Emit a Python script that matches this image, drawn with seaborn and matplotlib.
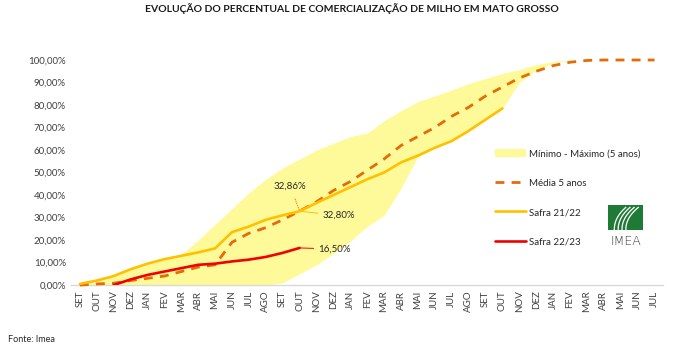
import numpy as np
import pandas as pd
import matplotlib
matplotlib.use("Agg")
import matplotlib.pyplot as plt
import seaborn as sns
from matplotlib.patches import Patch
from matplotlib.lines import Line2D

# months on the axis (two commercial years, SET -> JUL)
months = ["SET", "OUT", "NOV", "DEZ", "JAN", "FEV", "MAR", "ABR", "MAI", "JUN", "JUL", "AGO",
          "SET", "OUT", "NOV", "DEZ", "JAN", "FEV", "MAR", "ABR", "MAI", "JUN", "JUL", "AGO",
          "SET", "OUT", "NOV", "DEZ", "JAN", "FEV", "MAR", "ABR", "MAI", "JUN", "JUL"]

# values in %
band_max = [1, 2.5, 4.5, 7, 9.5, 11.5, 13.5, 20, 27, 34, 41, 47,
            52, 56, 60, 63, 66, 67.5, 73, 77.5, 81.5, 84, 86.7, 89.5,
            91.8, 94, 95.8, 98, 99.3, 100, 100, 100, 100, 100, 100]
band_min = [0, 0, 0, 0, 0, 0, 0, 0, 0, 0, 0, 0,
            1, 5, 9, 14, 19.5, 26, 31, 43, 57, 61, 64, 68.5,
            73.5, 78.5, 90, 95.5, 98.5, 99.8, 100, 100, 100, 100, 100]
media = [0, 0.5, 0.8, 2, 3, 4, 6, 8, 9, 19, 23, 25.5,
         29, 32.86, 37, 42, 46, 51, 56, 62, 66, 70, 75, 79,
         84, 88, 92, 95, 97.5, 99, 99.8, 100, 100, 100, 100]
safra_21_22 = [0.5, 2, 4, 7, 9.5, 11.5, 13, 14.5, 16.3, 23.5, 26, 29,
               31, 32.8, 36.5, 40, 43.5, 47, 50, 54.5, 57.5, 61, 64, 68.5,
               73.5, 78.5]
safra_22_23 = [0, 2.5, 4.5, 6, 7.5, 9, 9.5, 10.5, 11.3, 12.5, 14.3, 16.5]  # starts in NOV

C_BAND = "#FFFA99"
C_MEDIA = "#E36C09"
C_21 = "#FFC000"
C_22 = "#F00000"

sns.set_style("white")
plt.rcParams["font.family"] = ["Lato", "DejaVu Sans"]

fig = plt.figure(figsize=(6.8, 3.55), dpi=100)
ax = fig.add_axes([0.105, 0.197, 0.870, 0.634])

x_all = np.arange(len(months))
ax.fill_between(x_all, band_min, band_max, color=C_BAND, linewidth=0, zorder=1)

sns.lineplot(x=x_all, y=media, ax=ax, color=C_MEDIA, linewidth=2.0,
             linestyle=(0, (3.2, 2.6)), zorder=3, clip_on=False)
sns.lineplot(x=np.arange(len(safra_21_22)), y=safra_21_22, ax=ax, color=C_21,
             linewidth=1.9, zorder=4)
sns.lineplot(x=np.arange(2, 2 + len(safra_22_23)), y=safra_22_23, ax=ax, color=C_22,
             linewidth=1.9, zorder=5)

ax.set_xlim(-0.5, len(months) - 0.5)
ax.set_ylim(0, 100)
ax.set_xticks(x_all)
ax.set_xticklabels(months, rotation=90, fontsize=7, color="#404040")
yt = np.arange(0, 101, 10)
ax.set_yticks(yt)
ax.set_yticklabels([f"{v:.2f}".replace(".", ",") + "%" for v in yt], fontsize=7, color="#404040")
ax.tick_params(length=0, pad=4)
for s in ["left", "right", "top"]:
    ax.spines[s].set_visible(False)
ax.spines["bottom"].set_color("#D9D9D9")
ax.spines["bottom"].set_linewidth(1)

# data labels with leader lines
ax.annotate("32,86%", xy=(13, media[13]), xytext=(12.45, 44), fontsize=7, color="#262626",
            ha="center", va="center",
            arrowprops=dict(arrowstyle="-", color=C_MEDIA, lw=0.6, linestyle=":",
                            shrinkA=4, shrinkB=0))
ax.annotate("32,80%", xy=(13, safra_21_22[13]), xytext=(14.35, 31), fontsize=7, color="#262626",
            ha="left", va="center",
            arrowprops=dict(arrowstyle="-", color=C_21, lw=0.7, shrinkA=1, shrinkB=0))
ax.annotate("16,50%", xy=(13, safra_22_23[-1]), xytext=(14.1, 16), fontsize=7, color="#262626",
            ha="left", va="center",
            arrowprops=dict(arrowstyle="-", color=C_22, lw=0.7, shrinkA=1, shrinkB=0))

handles = [Patch(facecolor=C_BAND, edgecolor="none"),
           Line2D([], [], color=C_MEDIA, lw=2.0, linestyle=(0, (3.2, 2.6))),
           Line2D([], [], color=C_21, lw=1.9),
           Line2D([], [], color=C_22, lw=1.9)]
labels = ["Mínimo - Máximo (5 anos)", "Média 5 anos", "Safra 21/22", "Safra 22/23"]
fig.legend(handles, labels, loc="upper left", bbox_to_anchor=(0.715, 0.605), frameon=False,
           fontsize=7, handlelength=3.2, handleheight=0.9, handletextpad=0.3,
           labelspacing=2.05, labelcolor="#262626")

# IMEA logo (simple drawing: green square with white road-like curves)
lg = fig.add_axes([608 / 680, 1 - 230 / 355, 35 / 680, 25 / 355])
lg.set_facecolor("#1F7A35")
lg.set_xlim(0, 1)
lg.set_ylim(0, 1)
yy = np.linspace(0, 0.92, 50)
for k in range(4):
    xb = 0.18 + 0.11 * k
    xt = 0.52 + 0.12 * k
    lg.plot(xb + (xt - xb) * (yy / 0.92) ** 2.2, yy, color="white", lw=0.9,
            solid_capstyle="butt")
lg.set_xticks([])
lg.set_yticks([])
for s in lg.spines.values():
    s.set_visible(False)
fig.text(626 / 680, 1 - 241 / 355, "IMEA", fontsize=9, color="#333333", ha="center", va="center",
         family=["DejaVu Sans"], fontweight="light")

fig.text(0.518, 0.975, "EVOLUÇÃO DO PERCENTUAL DE COMERCIALIZAÇÃO DE MILHO EM MATO GROSSO",
         fontsize=7.5, fontweight="bold", ha="center", va="center", color="#1a1a1a")
fig.text(0.012, 0.045, "Fonte: Imea", fontsize=6.5, color="#262626", ha="left", va="center")

fig.savefig("out.png", dpi=100)
